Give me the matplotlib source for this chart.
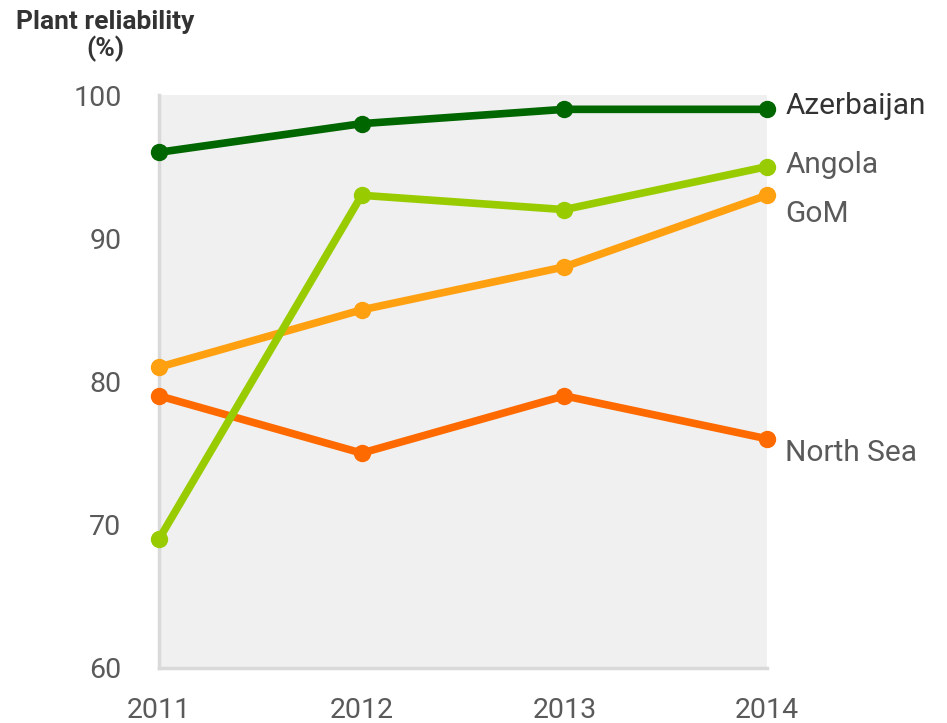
import matplotlib
matplotlib.use("Agg")
import matplotlib.pyplot as plt

years = [2011, 2012, 2013, 2014]
series_names = ["Azerbaijan", "Angola", "GoM", "North Sea"]
azerbaijan = [96, 98, 99, 99]
angola = [69, 93, 92, 95]
gom = [81, 85, 88, 93]
north_sea = [79, 75, 79, 76]
yticks = [60, 70, 80, 90, 100]

colors = ["#006600", "#99cc00", "#ffa010", "#ff6a00"]
label_y = [99.2, 95.1, 91.7, 75.0]
label_colors = ["#333333", "#5a5a5a", "#5a5a5a", "#5a5a5a"]

plt.rcParams['font.family'] = ['Roboto', 'DejaVu Sans']

fig = plt.figure(figsize=(9.47, 7.23), dpi=100)
ax = fig.add_axes([159/947, 55/723, (767-159)/947, (668-95)/723])
ax.set_facecolor("#f0f0f0")

data = [azerbaijan, angola, gom, north_sea]
order = [3, 2, 1, 0]
for i in order:
    ax.plot(years, data[i], color=colors[i], lw=5.5, marker='o', ms=11.5,
            clip_on=False, solid_capstyle='round', zorder=3 + (3 - i))

for name, ly, c in zip(series_names, label_y, label_colors):
    ax.text(2014 + 0.09, ly, name, fontsize=21.5, color=c, va='center', ha='left')

ax.set_xlim(2011, 2014)
ax.set_ylim(60, 100)
ax.set_yticks(yticks)
ax.set_xticks(years)
ax.set_xticklabels([str(y) for y in years])
ax.tick_params(axis='both', length=0, labelsize=20.5, labelcolor="#5a5a5a")
ax.tick_params(axis='y', pad=27)
ax.tick_params(axis='x', pad=21)

for s in ['top', 'right']:
    ax.spines[s].set_visible(False)
for s in ['left', 'bottom']:
    ax.spines[s].set_color("#d9d9d9")
    ax.spines[s].set_linewidth(2.5)

fig.text(105/947, 1 - 22/723, "Plant reliability", fontsize=19, fontweight='bold',
         color="#333333", ha='center', va='center')
fig.text(105/947, 1 - 49/723, "(%)", fontsize=19, fontweight='bold',
         color="#333333", ha='center', va='center')

fig.savefig("out.png", dpi=100)
